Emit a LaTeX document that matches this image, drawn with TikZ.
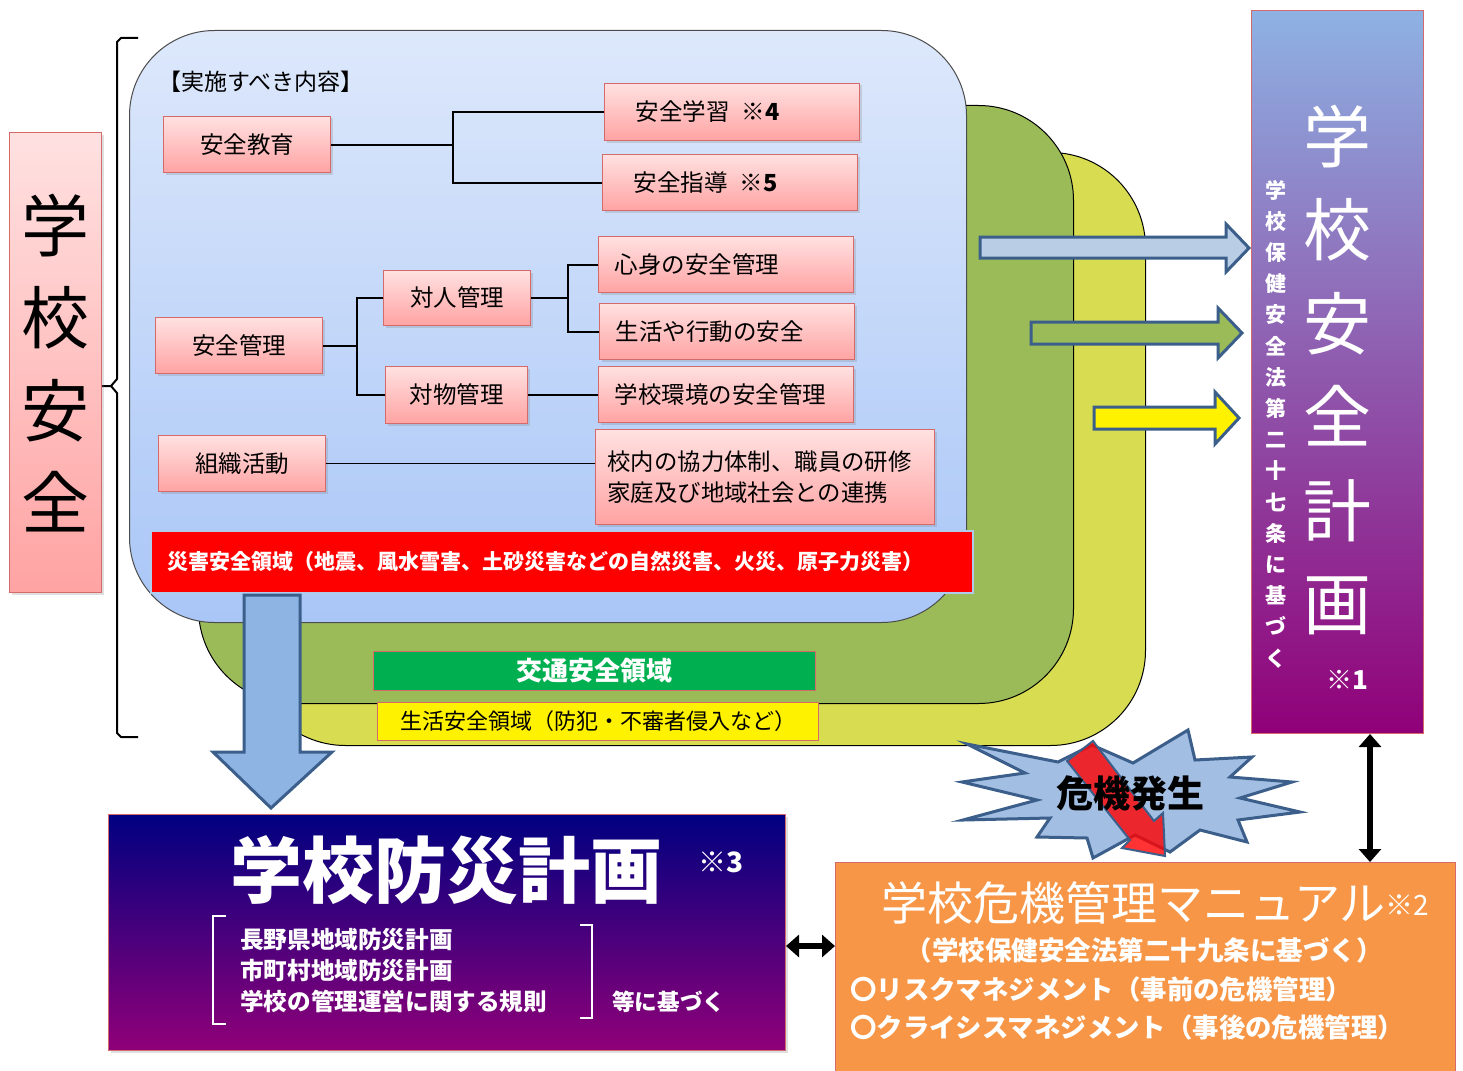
\documentclass[tikz,border=0pt]{standalone}
\usepackage{fontspec}
\setmainfont{Noto Sans CJK JP}
\usetikzlibrary{shadows,arrows.meta}
\definecolor{pinkT}{HTML}{FFE1E1}
\definecolor{pinkB}{HTML}{FFA3A3}
\definecolor{pinkD}{HTML}{D46A6A}
\definecolor{blueT}{HTML}{DDE8FB}
\definecolor{blueB}{HTML}{A9C6F7}
\definecolor{olivez}{HTML}{9BBB59}
\definecolor{limez}{HTML}{D7DC50}
\definecolor{navyA}{HTML}{3B5F8A}
\definecolor{arrowblue}{HTML}{8EB4E3}
\definecolor{arrowgray}{HTML}{B9CDE5}
\definecolor{greenband}{HTML}{00B050}
\definecolor{orangebox}{HTML}{F79646}
\definecolor{purpA}{HTML}{8EB2E3}
\definecolor{purpB}{HTML}{6E1A9E}
\definecolor{purpC}{HTML}{900078}
\definecolor{navyB}{HTML}{000080}
\definecolor{burstc}{HTML}{A3BEE3}
\tikzset{
  pinkbox/.style={draw=pinkD, line width=1pt, top color=pinkT, bottom color=pinkB,
    drop shadow={shadow xshift=2pt,shadow yshift=-2pt,opacity=0.25},
    inner sep=0pt, anchor=north west, font=\fontsize{23.5}{27}\selectfont},
  conn/.style={draw=black, line width=2pt},
  zone/.style={draw=black, line width=1pt, anchor=north west, inner sep=0pt},
  fatarrow/.style={draw=navyA, line width=3pt, line join=miter},
  dblarrow/.style={line width=6pt, {Triangle[length=13pt,width=22pt]}-{Triangle[length=13pt,width=22pt]}},
  wtext/.style={text=white, inner sep=0pt},
}
\begin{document}
\begin{tikzpicture}[x=1pt,y=-1pt]
\useasboundingbox (0,0) rectangle (1463,1070);
\fill[white] (0,0) rectangle (1463,1070);

% layered zones
\node[zone, fill=limez, rounded corners=95pt, minimum width=895pt, minimum height=593pt] (lifezone) at (250,152) {};
\node[zone, fill=olivez, rounded corners=95pt, minimum width=875pt, minimum height=598pt] (trafzone) at (198,105) {};
\node[zone, draw=black!70, top color=blueT, bottom color=blueB, rounded corners=85pt, minimum width=837pt, minimum height=592pt] (blue) at (129,30) {};

% left brace
\draw[line width=2pt, line join=round] (138,38) -- (121,38) -- (117,42) -- (117,379) -- (111,386) -- (95,386);
\draw[line width=2pt, line join=round] (111,386) -- (117,393) -- (117,733) -- (121,737) -- (138,737);

% left box
\node[pinkbox, minimum width=92pt, minimum height=460pt] (school) at (9,132) {};
\node[inner sep=0pt, align=center, font=\fontsize{68}{92.3}\selectfont] (schooltxt) at (55,363) {学\\校\\安\\全};

% title
\node[anchor=west, inner sep=0pt, font=\fontsize{23}{26}\selectfont] (head) at (158,82) {【実施すべき内容】};

% pink boxes
\node[pinkbox, minimum width=167pt, minimum height=56pt] (edu) at (163,116) {安全教育};
\node[pinkbox, minimum width=255pt, minimum height=57pt, text width=193pt, inner xsep=31pt, align=left] (learn) at (604,83) {安全学習\hspace{12pt}\textbf{※4}};
\node[pinkbox, minimum width=255pt, minimum height=56pt, text width=193pt, inner xsep=31pt, align=left] (guide) at (602,154) {安全指導\hspace{12pt}\textbf{※5}};
\node[pinkbox, minimum width=255pt, minimum height=56pt, text width=223pt, inner xsep=16pt, align=left] (mind) at (598,236) {心身の安全管理};
\node[pinkbox, minimum width=255pt, minimum height=56pt, text width=223pt, inner xsep=16pt, align=left] (life) at (599,303) {生活や行動の安全};
\node[pinkbox, minimum width=147pt, minimum height=55pt] (person) at (383,270) {対人管理};
\node[pinkbox, minimum width=167pt, minimum height=56pt] (mgmt) at (155,317) {安全管理};
\node[pinkbox, minimum width=142pt, minimum height=57pt] (object) at (385,366) {対物管理};
\node[pinkbox, minimum width=255pt, minimum height=56pt, text width=223pt, inner xsep=16pt, align=left] (env) at (598,366) {学校環境の安全管理};
\node[pinkbox, minimum width=167pt, minimum height=56pt] (org) at (158,435) {組織活動};
\node[pinkbox, minimum width=339pt, minimum height=95pt, text width=315pt, inner xsep=12pt, align=left, font=\fontsize{23.4}{31}\selectfont] (coop) at (595,429) {校内の協力体制、職員の研修\\家庭及び地域社会との連携};

% connectors
\coordinate (j1) at (edu.east -| 453,0);
\draw[conn] (edu.east) -- (j1);
\draw[conn] (learn.west) -| (j1);
\draw[conn] (guide.west) -| (j1);
\coordinate (j2) at (mgmt.east -| 357,0);
\draw[conn] (mgmt.east) -- (j2);
\draw[conn] (person.west) -| (j2);
\draw[conn] (object.west) -| (j2);
\coordinate (j3) at (person.east -| 568,0);
\draw[conn] (person.east) -- (j3);
\draw[conn] (mind.west) -| (j3);
\draw[conn] (life.west) -| (j3);
\draw[conn] (object.east) -- (object.east -| env.west);
\draw[draw=black, line width=1pt] (org.east) -- (org.east -| coop.west);

% bands
\node[anchor=north west, fill=red, draw=arrowblue!70, line width=1.5pt, minimum width=822pt, minimum height=62pt, text width=788pt, inner xsep=17pt, inner ysep=0pt, align=left, text=white, font=\bfseries\fontsize{21}{24}\selectfont] (disaster) at (150,530) {災害安全領域（地震、風水雪害、土砂災害などの自然災害、火災、原子力災害）};
\node[anchor=north west, fill=greenband, draw=pinkD, line width=1pt, minimum width=442pt, minimum height=39pt, inner sep=0pt, text=white, font=\bfseries\fontsize{26}{28}\selectfont] (traffic) at (373,651) {交通安全領域};
\node[anchor=north west, fill=yellow, draw=pinkD, line width=1pt, minimum width=441pt, minimum height=38pt, inner sep=0pt, font=\fontsize{22}{24}\selectfont] (safety) at (377,702) {生活安全領域（防犯・不審者侵入など）};

% down arrow
\draw[fatarrow, fill=arrowblue] (244,595) -- (300,595) -- (300,752) -- (332,752) -- (271,808) -- (213,752) -- (244,752) -- cycle;

% right arrows
\draw[fatarrow, fill=arrowgray] (980,237) -- (1226,237) -- (1226,224) -- (1249,248) -- (1226,272) -- (1226,258) -- (980,258) -- cycle;
\draw[fatarrow, fill=olivez] (1031,322) -- (1218,322) -- (1218,308) -- (1242,333) -- (1218,358) -- (1218,344) -- (1031,344) -- cycle;
\draw[fatarrow, fill=yellow] (1094,407) -- (1215,407) -- (1215,392) -- (1239,418) -- (1215,444) -- (1215,429) -- (1094,429) -- cycle;

% right plan box
\node[anchor=north west, draw=pinkD, line width=1pt, top color=purpA, middle color=purpB, bottom color=purpC, minimum width=172pt, minimum height=723pt, inner sep=0pt] (plan) at (1251,10) {};
\node[wtext, align=center, font=\fontsize{68}{93.4}\selectfont] (plantxt) at (1337,370) {学\\校\\安\\全\\計\\画};
\node[wtext, align=center, font=\bfseries\fontsize{21}{31.2}\selectfont] (plansub) at (1276,424) {学\\校\\保\\健\\安\\全\\法\\第\\二\\十\\七\\条\\に\\基\\づ\\く};
\node[wtext, font=\bfseries\fontsize{26}{28}\selectfont] (note1) at (1347,680) {※1};

% bottom-left box
\node[anchor=north west, draw=pinkD, line width=1pt, top color=navyB, middle color=purpB!60!navyB, bottom color=purpC, minimum width=677pt, minimum height=236pt, inner sep=0pt, drop shadow={shadow xshift=2pt,shadow yshift=-2pt,opacity=0.25}] (bousai) at (108,814) {};
\node[wtext, font=\bfseries\fontsize{72}{76}\selectfont] (bousaititle) at (446,870) {学校防災計画};
\node[wtext, font=\bfseries\fontsize{28}{30}\selectfont] (note3) at (721,862) {※3};
\draw[white, line width=1.5pt] (226,916) -- (213,916) -- (213,1024) -- (226,1024);
\draw[white, line width=1.5pt] (580,925) -- (592,925) -- (592,1018) -- (580,1018);
\node[wtext, anchor=west, align=left, font=\bfseries\fontsize{23.6}{31}\selectfont] (bases) at (240,971) {長野県地域防災計画\\市町村地域防災計画\\学校の管理運営に関する規則};
\node[wtext, anchor=west, font=\bfseries\fontsize{22.6}{24}\selectfont] (etc) at (612,1002) {等に基づく};

% orange box
\node[anchor=north west, draw=pinkD, line width=1pt, fill=orangebox, minimum width=620pt, minimum height=215pt, inner sep=0pt] (manual) at (835,862) {};
\node[wtext, anchor=west, font=\fontsize{46}{50}\selectfont] (mantitle) at (881,903) {学校危機管理マニュアル};
\node[wtext, anchor=west, font=\fontsize{28}{30}\selectfont] (note2) at (1385,905) {※2};
\node[wtext, font=\bfseries\fontsize{26.5}{28}\selectfont] (law29) at (1144,950) {（学校保健安全法第二十九条に基づく）};
\node[wtext, anchor=west, font=\bfseries\fontsize{26.4}{28}\selectfont] (risk) at (850,989) {〇リスクマネジメント（事前の危機管理）};
\node[wtext, anchor=west, font=\bfseries\fontsize{26.4}{28}\selectfont] (crisis) at (850,1027) {〇クライシスマネジメント（事後の危機管理）};

% double arrows
\draw[dblarrow] (bousai.east |- 0,946) -- (manual.west |- 0,946);
\draw[dblarrow] (plan.south -| 1370,0) -- (manual.north -| 1370,0);

% burst
\draw[draw=navyA, line width=3pt, fill=burstc, line join=miter] (967,744) -- (1058,762) -- (1092,745) -- (1133,763) -- (1188,730) -- (1195,760) -- (1252,757) -- (1230,777) -- (1292,782) -- (1240,798) -- (1300,812) -- (1238,820) -- (1247,842) -- (1200,830) -- (1170,852) -- (1135,835) -- (1093,858) -- (1087,838) -- (1037,837) -- (1050,818) -- (963,820) -- (1037,800) -- (962,782) -- (1025,773) -- cycle;
\draw[draw=navyA, line width=2pt, fill=red, fill opacity=0.8] (1093,741) -- (1154,821) -- (1163,813) -- (1165,856) -- (1122,848) -- (1130,840) -- (1067,761) -- cycle;
\node[inner sep=0pt, font=\bfseries\fontsize{37}{40}\selectfont] (crisisocc) at (1130,793) {危機発生};
\end{tikzpicture}
\end{document}
